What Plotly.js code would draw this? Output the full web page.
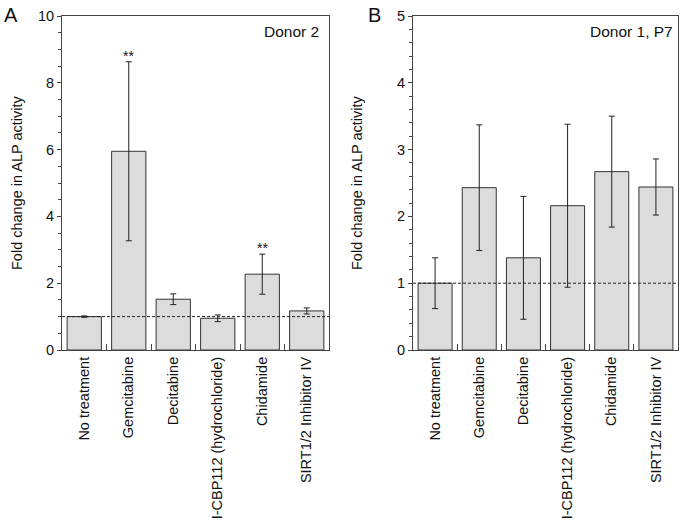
<!DOCTYPE html>
<html><head><meta charset="utf-8">
<script src="https://cdn.plot.ly/plotly-3.0.1.min.js"></script>
<style>html,body{margin:0;padding:0;background:#fff}#chart{width:685px;height:526px}</style>
</head><body><div id="chart"></div>
<script>
const categories = ["No treatment","Gemcitabine","Decitabine","I-CBP112 (hydrochloride)","Chidamide","SIRT1/2 Inhibitor IV"];
const donor2Values = [1.0, 5.95, 1.52, 0.95, 2.27, 1.17];
const donor2Errors = [0.02, 2.68, 0.16, 0.1, 0.6, 0.09];
const donor2Signif = ["", "**", "", "", "**", ""];
const donor1Values = [1.0, 2.43, 1.38, 2.16, 2.67, 2.44];
const donor1Errors = [0.38, 0.94, 0.92, 1.22, 0.83, 0.42];
const panelLabels = ["A", "B"];
const panelTitles = ["Donor 2", "Donor 1, P7"];
const yTitle = "Fold change in ALP activity";

const FONT = "Liberation Sans, Arial, sans-serif";
const barStyle = {color:'#dcdcdc', line:{color:'#333', width:1}};
const errStyle = {type:'data', color:'#222', thickness:1, width:3};

const traces = [
  {type:'bar', x:categories, y:donor2Values, xaxis:'x', yaxis:'y', width:0.77, marker:barStyle,
   error_y:Object.assign({array:donor2Errors}, errStyle), hoverinfo:'skip'},
  {type:'bar', x:categories, y:donor1Values, xaxis:'x2', yaxis:'y2', width:0.77, marker:barStyle,
   error_y:Object.assign({array:donor1Errors}, errStyle), hoverinfo:'skip'}
];

function xax(domain, anchor){
  return {domain:domain, anchor:anchor, type:'category', range:[-0.5,5.5],
    showline:true, linecolor:'#444', linewidth:1, mirror:true,
    ticks:'inside', tickson:'boundaries', ticklen:6, tickcolor:'#444',
    tickangle:-90, tickfont:{family:FONT, size:14.5, color:'#111'}, showgrid:false, zeroline:false};
}
function yax(domain, anchor, range, dtick, minor){
  return {domain:domain, anchor:anchor, range:range, dtick:dtick, tick0:0,
    showline:true, linecolor:'#444', linewidth:1, mirror:true,
    ticks:'outside', ticklen:4, tickcolor:'#444',
    minor:{dtick:minor, ticks:'outside', ticklen:3, tickcolor:'#444', showgrid:false},
    tickfont:{family:FONT, size:14.5, color:'#111'}, showgrid:false, zeroline:false};
}

const ydom = [(526-350)/526, (526-16)/526];
const ymid = (ydom[0]+ydom[1])/2;
const annotations = [];
donor2Signif.forEach((s,i)=>{
  if(s) annotations.push({xref:'x', yref:'y', x:categories[i], y:donor2Values[i]+donor2Errors[i],
    text:s, showarrow:false, yanchor:'bottom', yshift:-4, font:{family:FONT, size:14, color:'#111'}});
});
annotations.push({xref:'paper', yref:'paper', x:2/685, y:1-2/526, xanchor:'left', yanchor:'top',
  text:panelLabels[0], showarrow:false, font:{family:FONT, size:20, color:'#111'}});
annotations.push({xref:'paper', yref:'paper', x:366/685, y:1-2/526, xanchor:'left', yanchor:'top',
  text:panelLabels[1], showarrow:false, font:{family:FONT, size:20, color:'#111'}});
annotations.push({xref:'x domain', yref:'y domain', x:0.97, y:0.985, xanchor:'right', yanchor:'top',
  text:panelTitles[0], showarrow:false, font:{family:FONT, size:15.5, color:'#111'}});
annotations.push({xref:'x2 domain', yref:'y2 domain', x:0.99, y:0.985, xanchor:'right', yanchor:'top',
  text:panelTitles[1], showarrow:false, font:{family:FONT, size:15.5, color:'#111'}});
annotations.push({xref:'paper', yref:'paper', x:17/685, y:ymid, xanchor:'center', yanchor:'middle', textangle:-90,
  text:yTitle, showarrow:false, font:{family:FONT, size:14.5, color:'#111'}});
annotations.push({xref:'paper', yref:'paper', x:357/685, y:ymid, xanchor:'center', yanchor:'middle', textangle:-90,
  text:yTitle, showarrow:false, font:{family:FONT, size:14.5, color:'#111'}});

const layout = {
  width:685, height:526, margin:{l:0,r:0,t:0,b:0}, showlegend:false,
  paper_bgcolor:'#fff', plot_bgcolor:'#fff', bargap:0.2,
  xaxis: xax([62/685, 329/685], 'y'),
  yaxis: yax(ydom, 'x', [0,10], 2, 0.5),
  xaxis2: xax([413/685, 678/685], 'y2'),
  yaxis2: yax(ydom, 'x2', [0,5], 1, 0.2),
  shapes:[
    {type:'line', xref:'x domain', yref:'y', x0:0, x1:1, y0:1, y1:1, line:{color:'#222', width:1, dash:'3px,2px'}},
    {type:'line', xref:'x2 domain', yref:'y2', x0:0, x1:1, y0:1, y1:1, line:{color:'#222', width:1, dash:'3px,2px'}}
  ],
  annotations: annotations
};
Plotly.newPlot('chart', traces, layout, {displayModeBar:false, staticPlot:true});
</script></body></html>
